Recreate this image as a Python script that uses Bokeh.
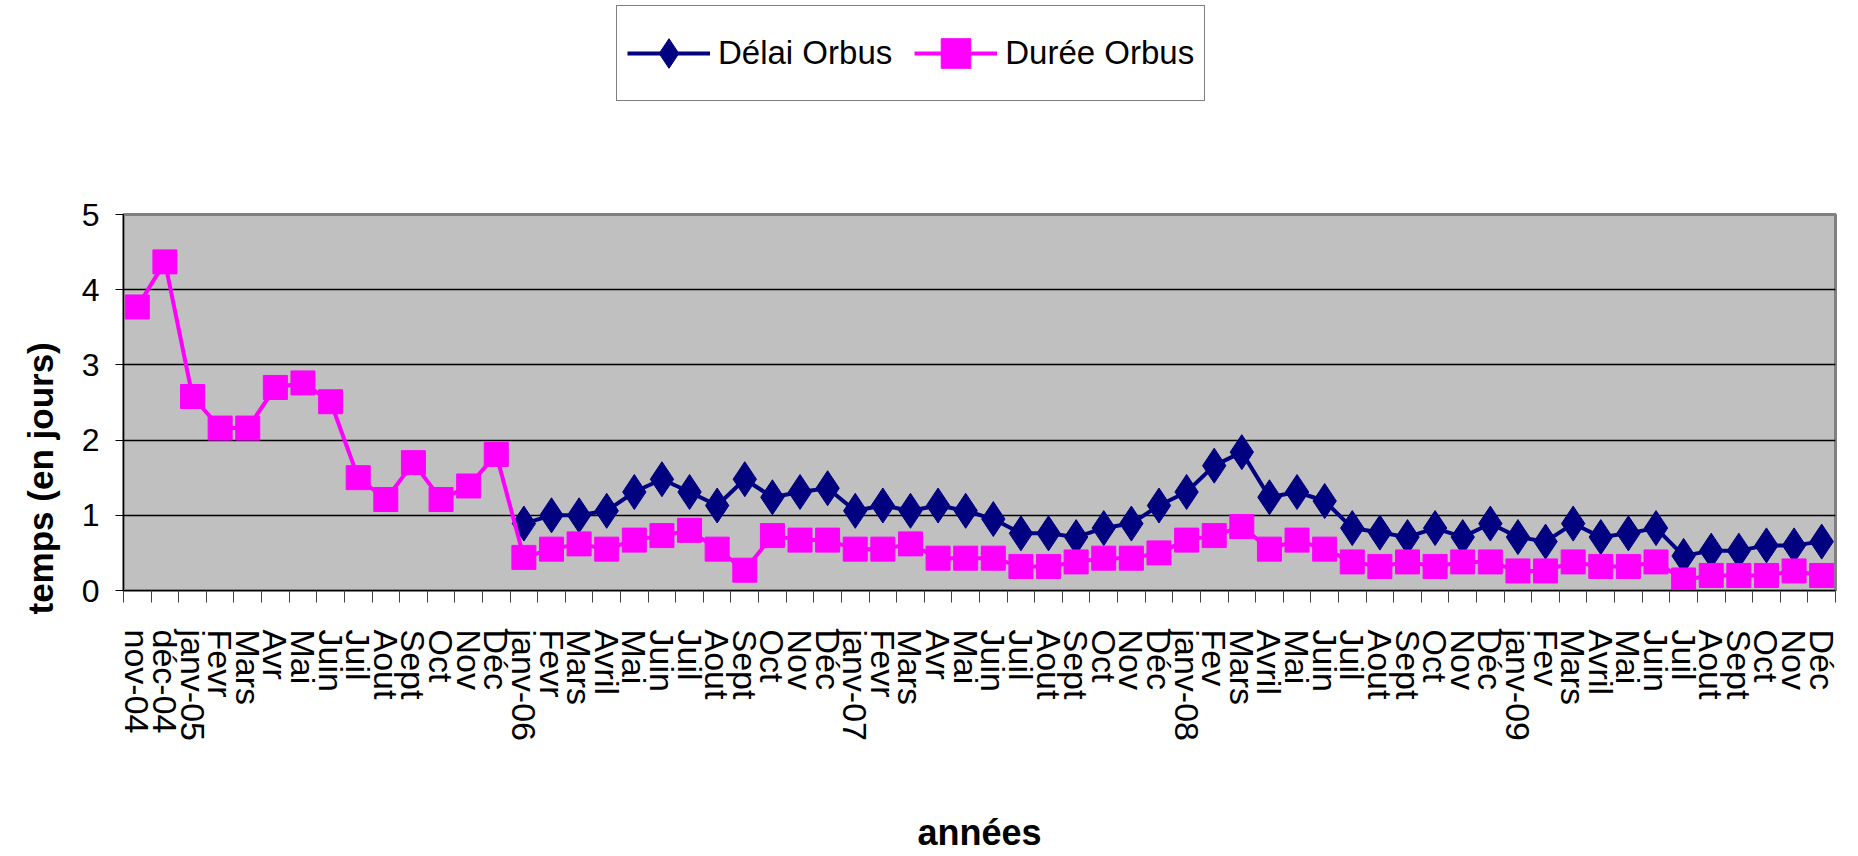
import math
from bokeh.plotting import figure
from bokeh.layouts import column
from bokeh.models import Range1d, FixedTicker, Legend, LegendItem, Title, ColumnDataSource
from bokeh.embed import file_html
from bokeh.resources import INLINE

NAN = float("nan")

months = ["nov-04", "déc-04", "janv-05", "Fevr", "Mars", "Avr", "Mai", "Juin", "Juil", "Aout", "Sept", "Oct", "Nov", "Déc",
          "janv-06", "Fevr", "Mars", "Avril", "Mai", "Juin", "Juil", "Aout", "Sept", "Oct", "Nov", "Déc",
          "janv-07", "Fevr", "Mars", "Avr", "Mai", "Juin", "Juil", "Aout", "Sept", "Oct", "Nov", "Déc",
          "janv-08", "Fev", "Mars", "Avril", "Mai", "Juin", "Juil", "Aout", "Sept", "Oct", "Nov", "Déc",
          "janv-09", "Fev", "Mars", "Avril", "Mai", "Juin", "Juil", "Aout", "Sept", "Oct", "Nov", "Déc"]

delai_orbus = [NAN] * 14 + [
    0.89, 1.00, 1.00, 1.06, 1.31, 1.48, 1.31, 1.13, 1.48, 1.24, 1.31, 1.36,
    1.06, 1.13, 1.06, 1.13, 1.06, 0.95, 0.76, 0.76, 0.71, 0.83, 0.89, 1.13,
    1.31, 1.66, 1.84, 1.24, 1.31, 1.19, 0.83, 0.77, 0.71, 0.83, 0.71, 0.89,
    0.71, 0.65, 0.89, 0.71, 0.76, 0.83, 0.46, 0.53, 0.53, 0.60, 0.60, 0.65]

duree_orbus = [
    3.77, 4.37, 2.58, 2.16, 2.16, 2.70, 2.76, 2.51, 1.50, 1.21, 1.70, 1.21, 1.39, 1.81,
    0.44, 0.55, 0.62, 0.55, 0.67, 0.73, 0.80, 0.55, 0.27, 0.73, 0.67, 0.67,
    0.55, 0.55, 0.62, 0.43, 0.43, 0.43, 0.32, 0.32, 0.38, 0.43, 0.43, 0.50,
    0.67, 0.73, 0.85, 0.55, 0.67, 0.55, 0.38, 0.32, 0.38, 0.32, 0.38, 0.38,
    0.26, 0.26, 0.38, 0.32, 0.32, 0.38, 0.14, 0.20, 0.20, 0.20, 0.26, 0.20]

y_ticks = [0, 1, 2, 3, 4, 5]

FONT = "Liberation Sans"
NAVY = "#000080"
MAGENTA = "#FF00FF"

xpos = [i + 0.5 for i in range(len(months))]
src = ColumnDataSource(dict(x=xpos, delai=delai_orbus, duree=duree_orbus))

BORDER_L = 121
BORDER_R = 23

# ---------------- legend strip (its ranges keep the data out of view; only the legend shows) ----------------
TOP_H = 150
lg = figure(width=1858, height=TOP_H, output_backend="svg", toolbar_location=None,
            x_range=Range1d(-20, -10), y_range=Range1d(-20, -10),
            x_axis_location=None, y_axis_location=None,
            min_border_left=BORDER_L, min_border_right=BORDER_R, min_border_top=0, min_border_bottom=0)
lg.outline_line_color = None
lg.grid.visible = False
lg.background_fill_color = "white"
lr1 = lg.line("x", "delai", source=src, line_color=NAVY, line_width=4)
ls1 = lg.scatter("x", "delai", source=src, marker="diamond", color=NAVY)
lr2 = lg.line("x", "duree", source=src, line_color=MAGENTA, line_width=4)
ls2 = lg.scatter("x", "duree", source=src, marker="square", color=MAGENTA)
legend = Legend(items=[LegendItem(label="Délai Orbus", renderers=[lr1, ls1]),
                       LegendItem(label="Durée Orbus", renderers=[lr2, ls2])],
                orientation="horizontal", location=(614 - BORDER_L, TOP_H - 101))
legend.label_text_font = FONT
legend.label_text_font_size = "33px"
legend.label_text_color = "black"
legend.glyph_width = 83
legend.glyph_height = 74
legend.label_standoff = 8
legend.spacing = 22
legend.padding = 10
legend.margin = 0
legend.border_line_color = "black"
legend.border_line_width = 1
legend.background_fill_color = "white"
legend.background_fill_alpha = 1
lg.add_layout(legend, "center")

# ---------------- main chart ----------------
p = figure(width=1858, height=856 - TOP_H, output_backend="svg", toolbar_location=None,
           x_range=Range1d(0, len(months)), y_range=Range1d(0, 5),
           min_border_left=BORDER_L, min_border_right=BORDER_R, min_border_top=214 - TOP_H,
           min_border_bottom=266)
p.background_fill_color = "#C0C0C0"
p.border_fill_color = "white"
p.outline_line_color = "#808080"
p.outline_line_width = 3

p.xgrid.visible = False
p.ygrid.ticker = FixedTicker(ticks=y_ticks[1:-1])
p.ygrid.grid_line_color = "black"
p.ygrid.grid_line_width = 1.5

r1 = p.line("x", "delai", source=src, line_color=NAVY, line_width=4)
s1 = p.scatter("x", "delai", source=src, marker="diamond", size=35, color=NAVY)
r2 = p.line("x", "duree", source=src, line_color=MAGENTA, line_width=4)
s2 = p.scatter("x", "duree", source=src, marker="square", size=24, color=MAGENTA)

# y axis
p.yaxis.ticker = FixedTicker(ticks=y_ticks)
p.yaxis.major_label_text_font = FONT
p.yaxis.major_label_text_font_size = "32px"
p.yaxis.major_label_text_color = "black"
p.yaxis.major_tick_out = 8
p.yaxis.major_tick_in = 0
p.yaxis.minor_tick_line_color = None
p.yaxis.axis_line_color = "black"
p.yaxis.major_tick_line_color = "black"
p.yaxis.major_label_standoff = 16

ytitle = Title(text="temps (en jours)", align="left", offset=-24, standoff=37,
               text_font=FONT, text_font_style="bold", text_font_size="35px", text_color="black")
p.add_layout(ytitle, "left")

# x axis
p.xaxis.ticker = FixedTicker(ticks=xpos, minor_ticks=list(range(len(months) + 1)))
p.xaxis.major_label_overrides = {xv: m for xv, m in zip(xpos, months)}
p.xaxis.major_label_orientation = -math.pi / 2
p.xaxis.major_label_text_font = FONT
p.xaxis.major_label_text_font_size = "34px"
p.xaxis.major_label_text_color = "black"
p.xaxis.major_tick_out = 0
p.xaxis.major_tick_in = 0
p.xaxis.minor_tick_out = 12
p.xaxis.minor_tick_in = 0
p.xaxis.minor_tick_line_color = "#404040"
p.xaxis.axis_line_color = "black"
p.xaxis.major_label_standoff = 27
p.xaxis.axis_label = "années"
p.xaxis.axis_label_text_font = FONT
p.xaxis.axis_label_text_font_style = "bold"
p.xaxis.axis_label_text_font_size = "36px"
p.xaxis.axis_label_text_color = "black"
p.xaxis.axis_label_standoff = 68

layout = column(lg, p, spacing=0)
open("out.html", "w").write(file_html(layout, INLINE))
